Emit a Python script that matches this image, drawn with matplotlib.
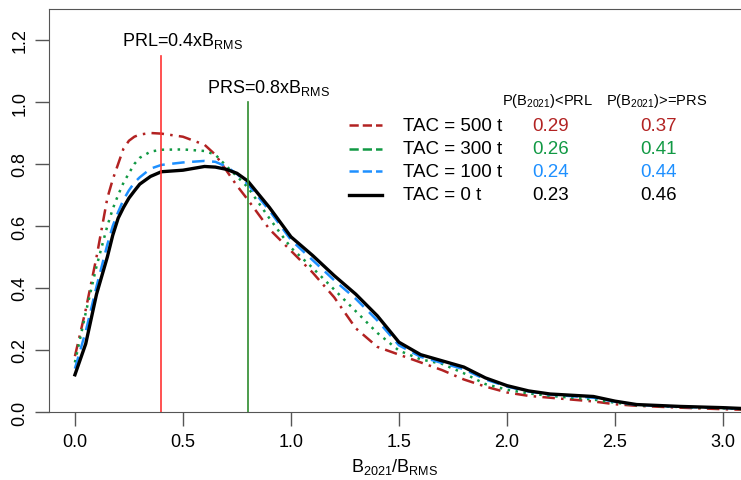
import numpy as np
import matplotlib
matplotlib.use("Agg")
import matplotlib.pyplot as plt

plt.rcParams['font.family'] = ['Liberation Sans', 'DejaVu Sans']

# density curves of B2021/BRMS
x = [0, 0.05, 0.1, 0.15, 0.175, 0.2, 0.225, 0.25, 0.275, 0.3, 0.35, 0.4, 0.5,
     0.6, 0.65, 0.7, 0.75, 0.8, 0.9, 1.0, 1.1, 1.2, 1.3, 1.4, 1.5, 1.6, 1.7,
     1.8, 1.9, 2.0, 2.1, 2.2, 2.4, 2.5, 2.6, 2.8, 3.0, 3.1]
tac0 = [0.12, 0.22, 0.38, 0.5, 0.57, 0.625, 0.66, 0.69, 0.713, 0.735, 0.76,
        0.775, 0.78, 0.792, 0.79, 0.783, 0.77, 0.745, 0.66, 0.565, 0.505,
        0.44, 0.38, 0.31, 0.225, 0.185, 0.165, 0.145, 0.11, 0.085, 0.068,
        0.058, 0.05, 0.035, 0.024, 0.018, 0.014, 0.011]
tac100 = [0.14, 0.26, 0.405, 0.54, 0.6, 0.645, 0.685, 0.715, 0.74, 0.757,
          0.785, 0.797, 0.805, 0.81, 0.807, 0.792, 0.768, 0.735, 0.65, 0.555,
          0.49, 0.425, 0.365, 0.295, 0.215, 0.178, 0.158, 0.138, 0.105, 0.082,
          0.066, 0.056, 0.046, 0.033, 0.023, 0.017, 0.013, 0.010]
tac300 = [0.16, 0.32, 0.47, 0.6, 0.655, 0.7, 0.74, 0.77, 0.8, 0.82, 0.84,
          0.846, 0.847, 0.842, 0.83, 0.794, 0.76, 0.725, 0.625, 0.53, 0.465,
          0.395, 0.325, 0.255, 0.198, 0.17, 0.155, 0.125, 0.09, 0.072, 0.06,
          0.052, 0.04, 0.03, 0.022, 0.016, 0.012, 0.009]
tac500 = [0.18, 0.33, 0.5, 0.69, 0.75, 0.8, 0.85, 0.875, 0.888, 0.895, 0.9,
          0.898, 0.888, 0.862, 0.83, 0.78, 0.73, 0.685, 0.59, 0.52, 0.45, 0.37,
          0.27, 0.21, 0.185, 0.16, 0.135, 0.105, 0.082, 0.063, 0.052, 0.046,
          0.034, 0.025, 0.02, 0.014, 0.009, 0.007]

labels = ['TAC = 500 t', 'TAC = 300 t', 'TAC = 100 t', 'TAC = 0 t']
p_prl = ['0.29', '0.26', '0.24', '0.23']
p_prs = ['0.37', '0.41', '0.44', '0.46']
prl = 0.4
prs = 0.8

colors = ['#b22222', '#119944', '#1e90ff', 'black']
styles = [(0, (5, 2.5, 1, 2.5)), (0, (1, 2.2)), (0, (5, 3)), '-']
widths = [1.8, 1.8, 1.8, 2.4]

fig = plt.figure(figsize=(7.41, 4.81), dpi=100)
ax = fig.add_axes([49 / 741, 1 - 413 / 481, 1 - 49 / 741, 403 / 481])

series = [tac500, tac300, tac100, tac0]
handles = []
for y, c, ls, lw in zip(series, colors, styles, widths):
    h, = ax.plot(x, y, color=c, linestyle=ls, lw=lw)
    handles.append(h)

ax.plot([prl, prl], [0, 1.15], color='#ff3333', lw=1.2)
ax.plot([prs, prs], [0, 1.0], color='#2e8b2e', lw=1.2)
ax.text(0.5, 1.2, r'PRL=0.4xB$_\mathregular{RMS}$', ha='center', va='center', fontsize=13)
ax.text(0.898, 1.05, r'PRS=0.8xB$_\mathregular{RMS}$', ha='center', va='center', fontsize=13)

# legend-like table
leg_y = [0.925, 0.85, 0.776, 0.701]
for yy, h, lab, a, b, c in zip(leg_y, handles, labels, p_prl, p_prs, colors):
    ax.plot([1.27, 1.42], [yy, yy], color=c, linestyle=h.get_linestyle(), lw=h.get_linewidth())
    ax.text(1.518, yy, lab, ha='left', va='center', fontsize=13.5)
    ax.text(2.203, yy, a, ha='center', va='center', fontsize=13.5, color=c)
    ax.text(2.703, yy, b, ha='center', va='center', fontsize=13.5, color=c)
ax.text(2.19, 1.007, r'P(B$_\mathregular{2021}$)<PRL', ha='center', va='center', fontsize=10.5)
ax.text(2.69, 1.007, r'P(B$_\mathregular{2021}$)>=PRS', ha='center', va='center', fontsize=10.5)

ax.set_xlim(-0.12, 3.083)
ax.set_ylim(0, 1.3)
ax.set_xticks([0, 0.5, 1.0, 1.5, 2.0, 2.5, 3.0])
ax.set_xticklabels(['0.0', '0.5', '1.0', '1.5', '2.0', '2.5', '3.0'])
ax.set_yticks([0, 0.2, 0.4, 0.6, 0.8, 1.0, 1.2])
ax.set_yticklabels(['0.0', '0.2', '0.4', '0.6', '0.8', '1.0', '1.2'], rotation=90, va='center')
ax.tick_params(labelsize=13, length=10, color='#555555', width=1, pad=5)
ax.spines['right'].set_visible(False)
for s in ['left', 'top', 'bottom']:
    ax.spines[s].set_color('#555555')
ax.set_xlabel(r'B$_\mathregular{2021}$/B$_\mathregular{RMS}$', fontsize=13)
ax.xaxis.set_label_coords(0.5, -0.108)

fig.savefig('out.png', dpi=100)
